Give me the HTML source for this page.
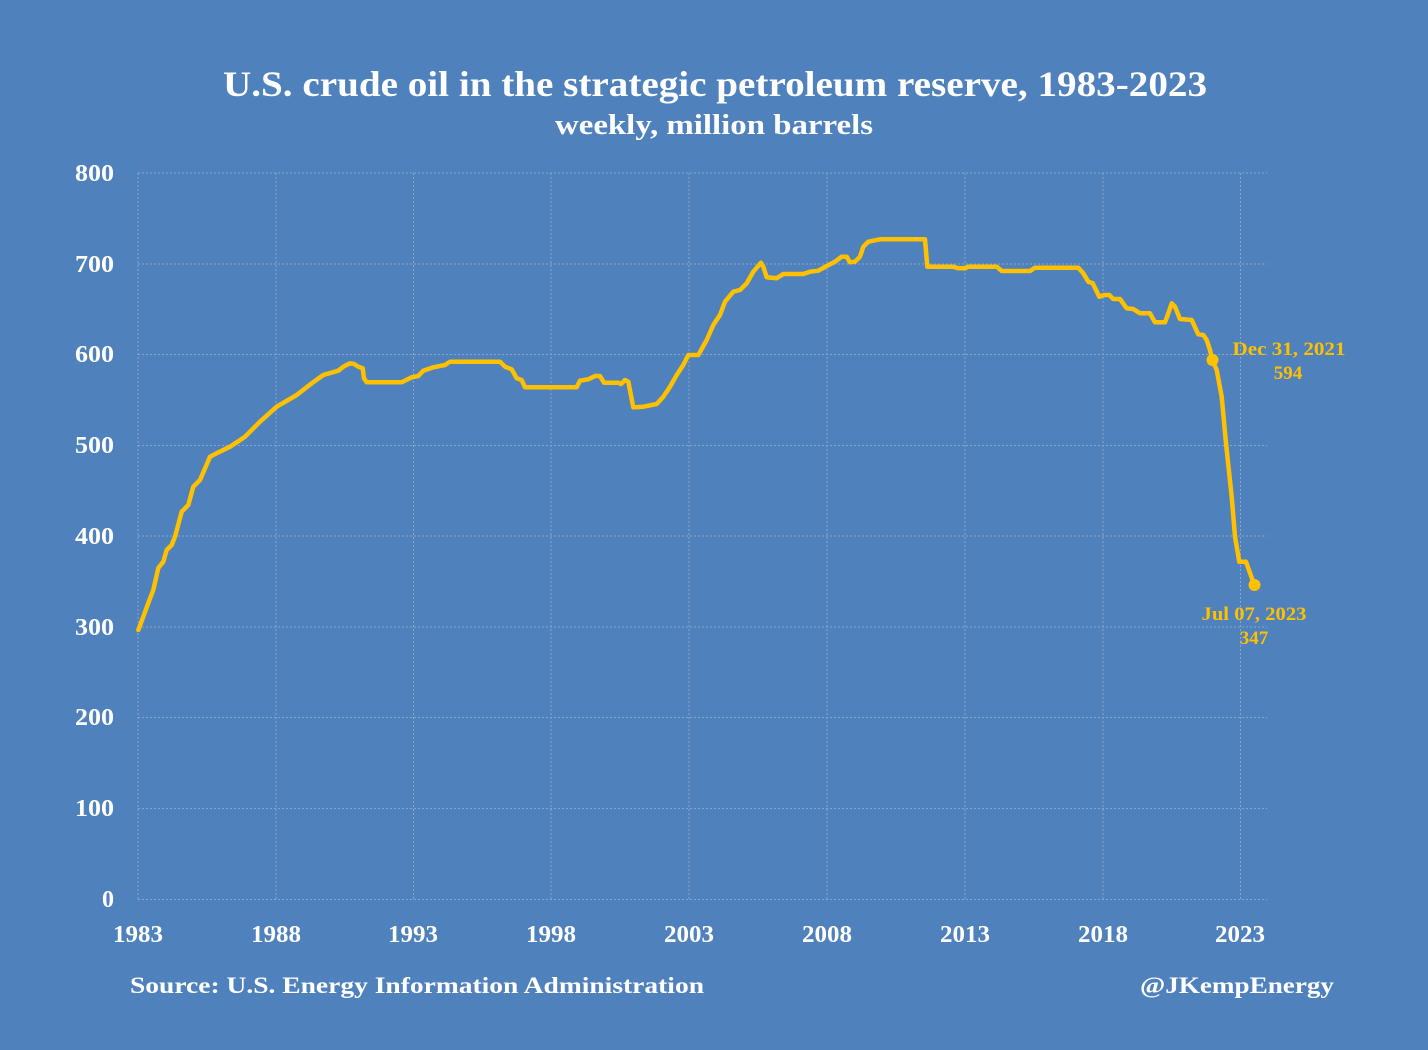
<!DOCTYPE html>
<html><head><meta charset="utf-8"><style>
html,body{margin:0;padding:0;background:#4f81bc;}
svg{display:block;}
text{font-family:"Liberation Serif",serif;font-weight:bold;}
</style></head><body>
<svg width="1428" height="1050" viewBox="0 0 1428 1050" xmlns="http://www.w3.org/2000/svg">
<rect width="1428" height="1050" fill="#4f81bc"/>
<text x="715" y="96" font-size="36" fill="#fff" text-anchor="middle" textLength="984" lengthAdjust="spacingAndGlyphs">U.S. crude oil in the strategic petroleum reserve, 1983-2023</text>
<text x="714" y="134" font-size="28" fill="#fff" text-anchor="middle" textLength="318" lengthAdjust="spacingAndGlyphs">weekly, million barrels</text>
<g stroke="#8ba5c9" stroke-width="1" stroke-dasharray="2,2" fill="none">
<line x1="138" y1="173" x2="1267" y2="173"/>
<line x1="138" y1="264" x2="1267" y2="264"/>
<line x1="138" y1="354.5" x2="1267" y2="354.5"/>
<line x1="138" y1="445.5" x2="1267" y2="445.5"/>
<line x1="138" y1="536" x2="1267" y2="536"/>
<line x1="138" y1="627" x2="1267" y2="627"/>
<line x1="138" y1="717.5" x2="1267" y2="717.5"/>
<line x1="138" y1="808.5" x2="1267" y2="808.5"/>
<line x1="138" y1="899.5" x2="1267" y2="899.5"/>
<line x1="138" y1="173" x2="138" y2="899"/>
<line x1="276" y1="173" x2="276" y2="899"/>
<line x1="413.5" y1="173" x2="413.5" y2="899"/>
<line x1="551" y1="173" x2="551" y2="899"/>
<line x1="689" y1="173" x2="689" y2="899"/>
<line x1="827" y1="173" x2="827" y2="899"/>
<line x1="965" y1="173" x2="965" y2="899"/>
<line x1="1103" y1="173" x2="1103" y2="899"/>
<line x1="1240.5" y1="173" x2="1240.5" y2="899"/>
</g>
<g font-size="24" fill="#fff" text-anchor="end">
<text x="114" y="181" textLength="39" lengthAdjust="spacingAndGlyphs">800</text>
<text x="114" y="272" textLength="39" lengthAdjust="spacingAndGlyphs">700</text>
<text x="114" y="362" textLength="39" lengthAdjust="spacingAndGlyphs">600</text>
<text x="114" y="453" textLength="39" lengthAdjust="spacingAndGlyphs">500</text>
<text x="114" y="544" textLength="39" lengthAdjust="spacingAndGlyphs">400</text>
<text x="114" y="635" textLength="39" lengthAdjust="spacingAndGlyphs">300</text>
<text x="114" y="725" textLength="39" lengthAdjust="spacingAndGlyphs">200</text>
<text x="114" y="816" textLength="39" lengthAdjust="spacingAndGlyphs">100</text>
<text x="114" y="907">0</text>
</g>
<g font-size="24" fill="#fff" text-anchor="middle">
<text x="138" y="942" textLength="50" lengthAdjust="spacingAndGlyphs">1983</text>
<text x="276" y="942" textLength="50" lengthAdjust="spacingAndGlyphs">1988</text>
<text x="413" y="942" textLength="50" lengthAdjust="spacingAndGlyphs">1993</text>
<text x="551" y="942" textLength="50" lengthAdjust="spacingAndGlyphs">1998</text>
<text x="689" y="942" textLength="50" lengthAdjust="spacingAndGlyphs">2003</text>
<text x="827" y="942" textLength="50" lengthAdjust="spacingAndGlyphs">2008</text>
<text x="965" y="942" textLength="50" lengthAdjust="spacingAndGlyphs">2013</text>
<text x="1103" y="942" textLength="50" lengthAdjust="spacingAndGlyphs">2018</text>
<text x="1240" y="942" textLength="50" lengthAdjust="spacingAndGlyphs">2023</text>
</g>
<text x="130" y="993" font-size="23" fill="#fff" textLength="574" lengthAdjust="spacingAndGlyphs">Source: U.S. Energy Information Administration</text>
<text x="1140" y="993" font-size="23" fill="#fff" textLength="194" lengthAdjust="spacingAndGlyphs">@JKempEnergy</text>
<polyline fill="none" stroke="#ffc000" stroke-width="4.5" stroke-linejoin="round" stroke-linecap="round" points="
138.3,630 143.3,616.7 148.3,603 153.3,590 158.3,568 163.3,561.7 166.7,550 171.7,545 175,536.7 181.7,511.7 188.3,505 193.3,486.7 200,480 210,456.7 216.7,453.3 230,446.7 245,436.7 260,421.7 276.7,406.7 296.7,395 311.7,383.3 323.3,375 338.3,370.7 343.3,366.7 350,363.3 354,364 358.3,366.7 362.7,368.3 364,378.3 366.7,382.3 390,382.3
401.7,382.3 411.7,377.3 418.3,376 423.3,370.7 433.3,367.3 445,365 450,361.7 500,361.7 505,366.7 511.7,369.3 516.7,378.3 521.7,380 525,387.3 576.7,387.3 580,380.7 588.3,379.3 595,376 600,376 604,382.7 618.3,382.7 621,384 625,380 628.3,381.7 633.3,407.3 643.3,406.7 656.7,404 663.3,396.7 670,386.7 676.7,375 683.3,365 688.3,355 698.3,355 706.7,340 713.3,325 720,315 725,301.7 733.3,291.7 740,290 746.7,283.3 753.3,271.7 761,262.7 763.3,266.7 766.7,277.3 776.7,278.3 783.3,274 803.3,274 810,271.7 818.3,270.7 826.7,266 835,261.7 841.7,256.7 846.7,256.7 850,262.3 855,261.7 860,256.7 863.3,246.7 868.3,241.7 880,239.3 925,239.3 927.3,266.7 953.3,266.7 958.3,268.3 965,268.3 968.3,266.7 996.7,266.7 1001.7,271 1030,271 1035,267.7 1078.3,267.7 1083.3,273.3 1088.3,281.7 1092.7,283.3 1099.3,296.7 1104,295 1109.3,295 1113.3,299 1120,299 1126.7,308.3 1133.3,309 1140,313.3 1150,313.3 1155,322.3 1165,322.3 1168.3,313.3 1171.7,303.3 1175,306.7 1180,319 1191.7,320 1198.3,334.3 1203.3,335 1206.7,340 1210,350 1212.3,360 1216.7,370 1221.7,396.7 1226,443.3 1231.7,496.7 1235,536.7 1239.3,561.7 1246,561.7 1254.3,585"/>
<circle cx="1212.5" cy="360" r="6" fill="#ffc000"/>
<circle cx="1254.5" cy="585" r="6" fill="#ffc000"/>
<g font-size="19" fill="#ffc000" text-anchor="middle">
<text x="1289" y="355" textLength="113" lengthAdjust="spacingAndGlyphs">Dec 31, 2021</text>
<text x="1288" y="379">594</text>
<text x="1254" y="620" textLength="105" lengthAdjust="spacingAndGlyphs">Jul 07, 2023</text>
<text x="1254" y="644">347</text>
</g>
</svg>
</body></html>
